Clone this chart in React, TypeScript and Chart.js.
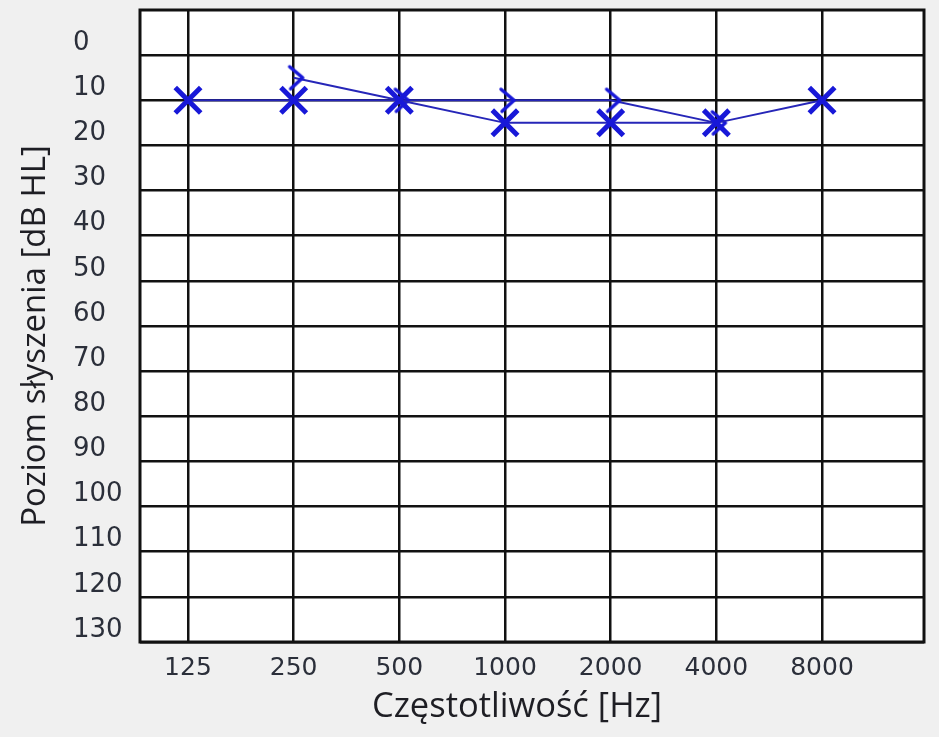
import { useEffect, useRef } from "react";
import { Chart, registerables } from "chart.js";

Chart.register(...registerables);

const frequencyLabels = ["125", "250", "500", "1000", "2000", "4000", "8000"];
const airConduction = [10, 10, 10, 15, 15, 15, 10];
const boneConduction: (number | null)[] = [null, 5, 10, 10, 10, 15, null];
const levelTicks = [0, 10, 20, 30, 40, 50, 60, 70, 80, 90, 100, 110, 120, 130];
const yTitle = "Poziom słyszenia [dB HL]";
const xTitle = "Częstotliwość [Hz]";

const MARK = "#1818d8";
const LINE = "#2626b8";
const TEXT = "#1e1e24";
const TICK_TEXT = "#2b2f3a";

function makeBoneSymbol(color: string) {
  const c = document.createElement("canvas");
  c.width = 34;
  c.height = 30;
  const g = c.getContext("2d")!;
  g.strokeStyle = color;
  g.lineWidth = 3.5;
  g.lineCap = "round";
  g.lineJoin = "round";
  g.beginPath();
  g.moveTo(13, 4);
  g.lineTo(26, 15);
  g.lineTo(14, 26);
  g.stroke();
  return c;
}

const framePlugin = {
  id: "frame",
  beforeDraw(chart: any) {
    const { ctx, chartArea } = chart;
    ctx.save();
    ctx.fillStyle = "#ffffff";
    ctx.fillRect(chartArea.left, chartArea.top, chartArea.right - chartArea.left, chartArea.bottom - chartArea.top);
    ctx.restore();
  },
  beforeDatasetsDraw(chart: any) {
    const { ctx, chartArea } = chart;
    ctx.save();
    ctx.strokeStyle = "#111111";
    ctx.lineWidth = 3;
    ctx.strokeRect(chartArea.left, chartArea.top, chartArea.right - chartArea.left, chartArea.bottom - chartArea.top);
    ctx.restore();
  },
  afterDraw(chart: any) {
    const { ctx } = chart;
    ctx.save();
    ctx.fillStyle = TEXT;
    ctx.textAlign = "center";
    ctx.textBaseline = "alphabetic";
    ctx.font = "34.5px 'Open Sans'";
    ctx.fillText(xTitle, 517, 717);
    ctx.font = "33px 'Open Sans'";
    ctx.translate(45, 336);
    ctx.rotate(-Math.PI / 2);
    ctx.fillText(yTitle, 0, 0);
    ctx.restore();
  },
};

export default function App() {
  const ref = useRef<HTMLCanvasElement | null>(null);

  useEffect(() => {
    document.body.style.margin = "0";
    const canvas = ref.current!;
    const boneSymbol = makeBoneSymbol(MARK);

    const chart = new Chart(canvas, {
      type: "line",
      data: {
        datasets: [
          {
            label: "Przewodnictwo kostne",
            data: boneConduction.map((v, i) => ({ x: i, y: v })) as any,
            borderColor: LINE,
            borderWidth: 2,
            pointStyle: boneSymbol as any,
            pointRadius: 10,
            spanGaps: false,
            order: 2,
          },
          {
            label: "Przewodnictwo powietrzne",
            data: airConduction.map((v, i) => ({ x: i, y: v })),
            borderColor: LINE,
            borderWidth: 2,
            pointStyle: "crossRot",
            pointRadius: 18,
            pointBorderWidth: 5,
            pointBorderColor: MARK,
            pointBackgroundColor: MARK,
            order: 1,
          },
        ],
      },
      options: {
        animation: false,
        responsive: false,
        layout: { autoPadding: false, padding: { left: 73, top: 10, right: 15, bottom: 0 } },
        plugins: {
          legend: { display: false },
          tooltip: { enabled: false },
        },
        scales: {
          x: {
            type: "linear",
            min: -0.454,
            max: 6.965,
            afterBuildTicks: (s: any) => {
              s.ticks = frequencyLabels.map((_, i) => ({ value: i }));
            },
            afterFit: (s: any) => {
              s.height = 95;
              s.paddingLeft = 0;
              s.paddingRight = 0;
            },
            grid: { color: "#111111", lineWidth: 2.5, drawTicks: false },
            border: { display: false },
            ticks: {
              autoSkip: false,
              maxRotation: 0,
              padding: 11,
              color: TICK_TEXT,
              font: { family: "'DejaVu Sans'", size: 25 },
              callback: (v: any) => frequencyLabels[v] ?? "",
            },
          },
          y: {
            type: "linear",
            min: -10,
            max: 130,
            reverse: true,
            afterBuildTicks: (s: any) => {
              s.ticks = levelTicks.map((v) => ({ value: v }));
            },
            afterFit: (s: any) => {
              s.width = 67;
              s.paddingTop = 0;
              s.paddingBottom = 0;
            },
            grid: { color: "#111111", lineWidth: 2.5, drawTicks: false },
            border: { display: false },
            ticks: {
              autoSkip: false,
              crossAlign: "far",
              labelOffset: -12,
              color: TICK_TEXT,
              font: { family: "'DejaVu Sans'", size: 26 },
            },
          },
        },
      },
      plugins: [framePlugin],
    });
    return () => chart.destroy();
  }, []);

  return (
    <div style={{ width: 939, height: 737, background: "#f0f0f0", overflow: "hidden" }}>
      <canvas ref={ref} width={939} height={737} style={{ display: "block" }} />
    </div>
  );
}
